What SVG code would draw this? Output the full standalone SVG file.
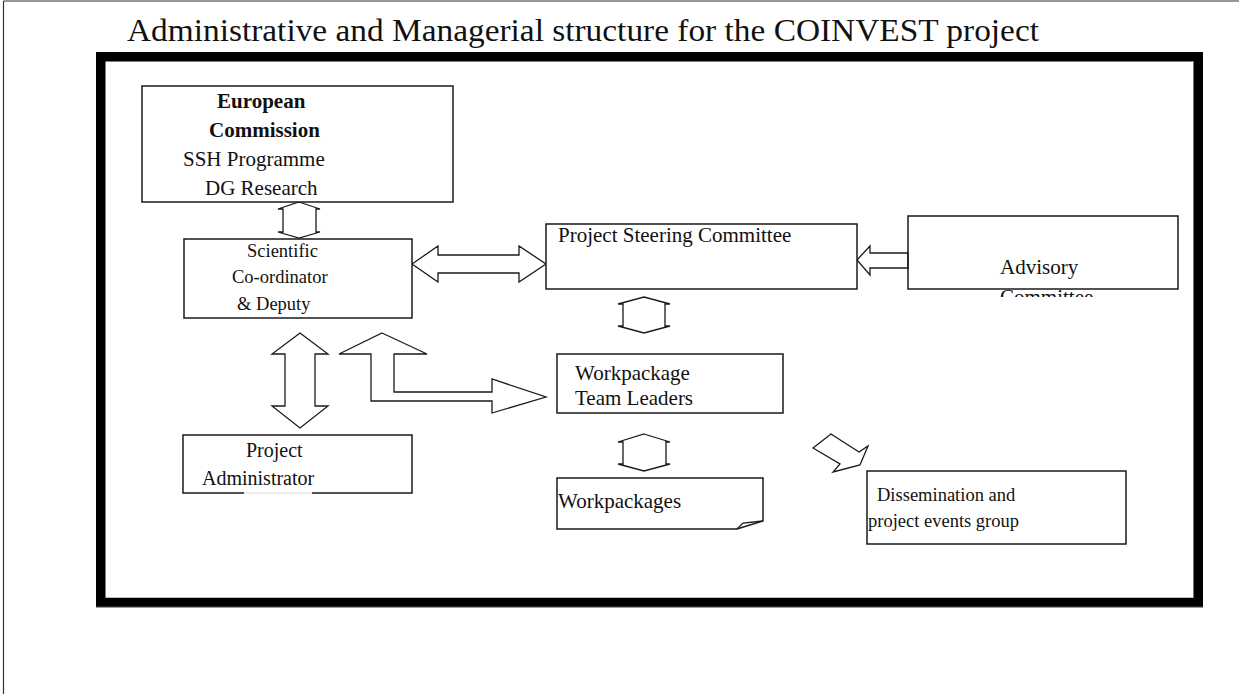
<svg xmlns="http://www.w3.org/2000/svg" width="1239" height="694" viewBox="0 0 1239 694">
<defs>
<style>
.box{fill:#fff;stroke:#1a1a1a;stroke-width:1.5}
.arr{fill:#fff;stroke:#1a1a1a;stroke-width:1.3;stroke-linejoin:miter}
.t{font-family:"Liberation Serif","Times New Roman",serif;fill:#111}
.b{font-weight:bold}
</style>
<clipPath id="advClip"><rect x="908" y="216" width="270" height="81"/></clipPath>
</defs>
<rect x="0" y="0" width="1239" height="694" fill="#fff"/>
<!-- page border -->
<line x1="3.5" y1="1" x2="1239" y2="1" stroke="#333" stroke-width="1.2"/>
<line x1="3.5" y1="1" x2="3.5" y2="694" stroke="#333" stroke-width="1.2"/>
<!-- title -->
<text class="t" x="127" y="41" font-size="31" textLength="912" lengthAdjust="spacingAndGlyphs">Administrative and Managerial structure for the COINVEST project</text>
<!-- thick frame -->
<rect x="100.75" y="56.75" width="1097.5" height="545.75" fill="none" stroke="#000" stroke-width="9.5"/>
<line x1="96" y1="607.2" x2="1203" y2="607.2" stroke="#888" stroke-width="1"/>
<line x1="1193.5" y1="61.5" x2="1193.5" y2="598" stroke="#777" stroke-width="1"/>

<g id="connectors">
<polygon class="arr" points="299,202 320,209 316,209 316,232 320,232 299,238 278,232 283,232 283,209 278,209"/>
<polygon class="arr" points="412,264 438,246 438,255 519,255 519,246 546,264 519,282 519,273 438,273 438,282"/>
<polygon class="arr" points="857,260 870,246 870,253 908,253 908,268 870,268 870,275"/>
<polygon class="arr" points="644,297 670,304 665,304 665,326 670,326 644,333 618,326 623,326 623,304 618,304"/>
<polygon class="arr" points="382,333 427,354 394,354 394,392 492,392 492,379 546,397 492,413 492,401 371,401 371,354 339,354"/>
<polygon class="arr" points="300,333 328,354 315,354 315,406 328,406 300,428 272,406 285,406 285,354 272,354"/>
<polygon class="arr" points="644,434 670,442 666,442 666,464 670,464 644,471 618,464 623,464 623,442 618,442"/>
<polygon class="arr" points="813,448 831,434 859,452 868,446 860,465 833,472 840,464"/>
</g>

<g id="european-commission">
<rect class="box" x="142" y="86" width="311" height="116"/>
<text class="t b" x="217" y="108" font-size="21">European</text>
<text class="t b" x="209" y="137" font-size="21">Commission</text>
<text class="t" x="183" y="166" font-size="21">SSH Programme</text>
<text class="t" x="205" y="195" font-size="21">DG Research</text>
</g>

<g id="scientific-coordinator">
<rect class="box" x="184" y="239" width="228" height="79"/>
<text class="t" x="247" y="257" font-size="18.5">Scientific</text>
<text class="t" x="232" y="283" font-size="18.5">Co-ordinator</text>
<text class="t" x="237" y="310" font-size="18.5">&amp; Deputy</text>
</g>

<g id="steering-committee">
<rect class="box" x="546" y="224" width="311" height="65"/>
<text class="t" x="558" y="242" font-size="21">Project Steering Committee</text>
</g>

<g id="advisory-committee">
<g clip-path="url(#advClip)">
<text class="t" x="1000" y="274" font-size="21">Advisory</text>
<text class="t" x="1000" y="304" font-size="21">Committee</text>
</g>
<rect x="908" y="216" width="270" height="73" fill="none" stroke="#1a1a1a" stroke-width="1.5"/>
</g>

<g id="workpackage-team-leaders">
<rect class="box" x="557" y="354" width="226" height="59"/>
<text class="t" x="575" y="380" font-size="21">Workpackage</text>
<text class="t" x="575" y="405" font-size="21">Team Leaders</text>
</g>

<g id="project-administrator">
<rect class="box" x="183" y="435" width="229" height="58"/>
<rect x="244" y="491" width="68" height="4" fill="#fff"/>
<line x1="244" y1="493" x2="312" y2="493" stroke="#ddd" stroke-width="1"/>
<text class="t" x="246" y="457" font-size="20">Project</text>
<text class="t" x="202" y="485" font-size="20">Administrator</text>
</g>

<g id="workpackages">
<path class="box" d="M557,478 H763 V521 L737,529 H557 Z"/>
<path d="M737,529 L743,523 L763,521" fill="none" stroke="#1a1a1a" stroke-width="1.3"/>
<text class="t" x="558" y="508" font-size="21">Workpackages</text>
</g>

<g id="dissemination">
<rect class="box" x="867" y="471" width="259" height="73"/>
<text class="t" x="877" y="501" font-size="18.5">Dissemination and</text>
<text class="t" x="868" y="527" font-size="18.5">project events group</text>
</g>
</svg>
